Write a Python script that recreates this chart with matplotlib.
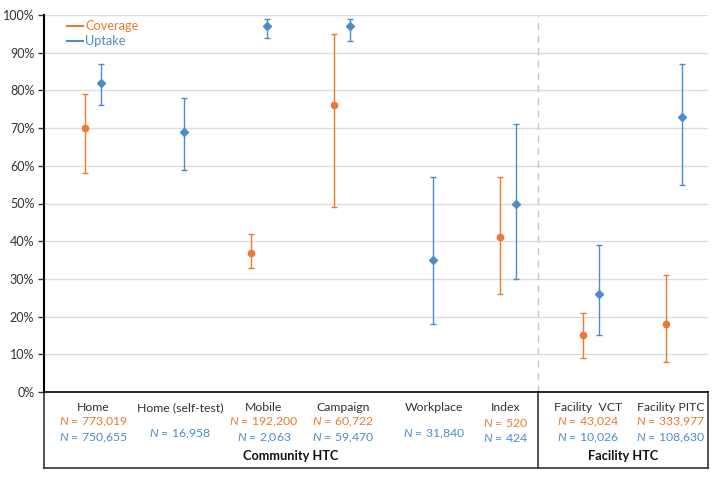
import numpy as np
import matplotlib.pyplot as plt
import matplotlib.transforms as mtransforms

plt.rcParams['font.family'] = ['Lato', 'DejaVu Sans']
plt.rcParams['mathtext.fontset'] = 'custom'
plt.rcParams['mathtext.it'] = 'Lato:italic'
plt.rcParams['mathtext.rm'] = 'Lato'

categories = ['Home', 'Home (self-test)', 'Mobile', 'Campaign', 'Workplace',
              'Index', 'Facility  VCT', 'Facility PITC']
nan = np.nan
cov = [70, nan, 37, 76, nan, 41, 15, 18]
cov_lo = [58, nan, 33, 49, nan, 26, 9, 8]
cov_hi = [79, nan, 42, 95, nan, 57, 21, 31]
upt = [82, 69, 97, 97, 35, 50, 26, 73]
upt_lo = [76, 59, 94, 93, 18, 30, 15, 55]
upt_hi = [87, 78, 99, 99, 57, 71, 39, 87]
cov_n = ['773,019', '', '192,200', '60,722', '', '520', '43,024', '333,977']
upt_n = ['750,655', '16,958', '2,063', '59,470', '31,840', '424', '10,026', '108,630']
groups = ['Community HTC', 'Facility HTC']

orange = '#EB7A30'
blue = '#4F8BC9'
txt = '#333333'

fig = plt.figure(figsize=(7.21, 4.80), dpi=100)
ax = fig.add_axes([44 / 721, 1 - 392 / 480, (708 - 44) / 721, (392 - 15) / 480])

x = np.arange(len(categories))
off = 8 / 83
cov = np.array(cov, float)
upt = np.array(upt, float)
cov_err = [cov - np.array(cov_lo, float), np.array(cov_hi, float) - cov]
upt_err = [upt - np.array(upt_lo, float), np.array(upt_hi, float) - upt]

ax.errorbar(x - off, cov, yerr=cov_err, fmt='o', color=orange, ms=4.5,
            elinewidth=1.0, capsize=2.5, capthick=1.0, zorder=3)
ax.errorbar(x + off, upt, yerr=upt_err, fmt='D', color=blue, ms=4,
            elinewidth=1.0, capsize=2.5, capthick=1.0, zorder=3)

sep = (538 - 93) / 83
ax.set_xlim((44 - 93) / 83, (708 - 93) / 83)
ax.set_ylim(0, 100)
ax.set_yticks(np.arange(0, 101, 10))
ax.set_yticklabels([f'{v}%' for v in range(0, 101, 10)])
ax.yaxis.grid(True, color='#dddddd', lw=1)
ax.set_axisbelow(True)
ax.set_xticks([])
ax.tick_params(axis='y', length=4, width=1, labelsize=9, colors='#333333', pad=3)
for s in ['top', 'right']:
    ax.spines[s].set_visible(False)
ax.spines['left'].set_linewidth(1.5)
ax.spines['bottom'].set_linewidth(1.2)

ax.axvline(sep, color='#c8c8c8', ls=(0, (5, 4)), lw=1)

# legend
ax.plot([0.035, 0.058], [0.97, 0.97], transform=ax.transAxes, color=orange, lw=1.5, clip_on=False)
ax.text(0.062, 0.97, 'Coverage', transform=ax.transAxes, color=orange, fontsize=9.2, va='center')
ax.plot([0.035, 0.058], [0.932, 0.932], transform=ax.transAxes, color=blue, lw=1.5, clip_on=False)
ax.text(0.062, 0.932, 'Uptake', transform=ax.transAxes, color=blue, fontsize=9.2, va='center')

# table below (text columns nudged slightly, as in the original layout)
tr = mtransforms.blended_transform_factory(ax.transData, ax.transAxes)
bot = -(468 - 392) / 377
fs = 8.8
nudge = [0, 4, 5, 1, 9, -2, -3, -3]
for i, c in enumerate(categories):
    xc = i + nudge[i] / 83
    ax.text(xc, -0.042, c, transform=tr, ha='center', va='center', fontsize=fs, color=txt)
    if cov_n[i]:
        ax.text(xc, -0.081, f'$N$ = {cov_n[i]}', transform=tr, ha='center', va='center',
                fontsize=fs, color=orange)
        ax.text(xc, -0.122, f'$N$ = {upt_n[i]}', transform=tr, ha='center', va='center',
                fontsize=fs, color=blue)
    else:
        ax.text(xc, -0.113, f'$N$ = {upt_n[i]}', transform=tr, ha='center', va='center',
                fontsize=fs, color=blue)

lo_x = (44 - 93) / 83
hi_x = (708 - 93) / 83
ax.text((lo_x + sep) / 2, -0.17, groups[0], transform=tr, ha='center', va='center',
        fontsize=9.2, fontweight='bold', color='#111111')
ax.text((sep + hi_x) / 2, -0.17, groups[1], transform=tr, ha='center', va='center',
        fontsize=9.2, fontweight='bold', color='#111111')

kw = dict(transform=tr, color='#333333', lw=1.2, clip_on=False)
ax.plot([lo_x, lo_x], [0, bot], **kw)
ax.plot([hi_x, hi_x], [0, bot], **kw)
ax.plot([sep, sep], [0, bot], **kw)
ax.plot([lo_x, hi_x], [bot, bot], **kw)

fig.savefig('out.png', dpi=100)
